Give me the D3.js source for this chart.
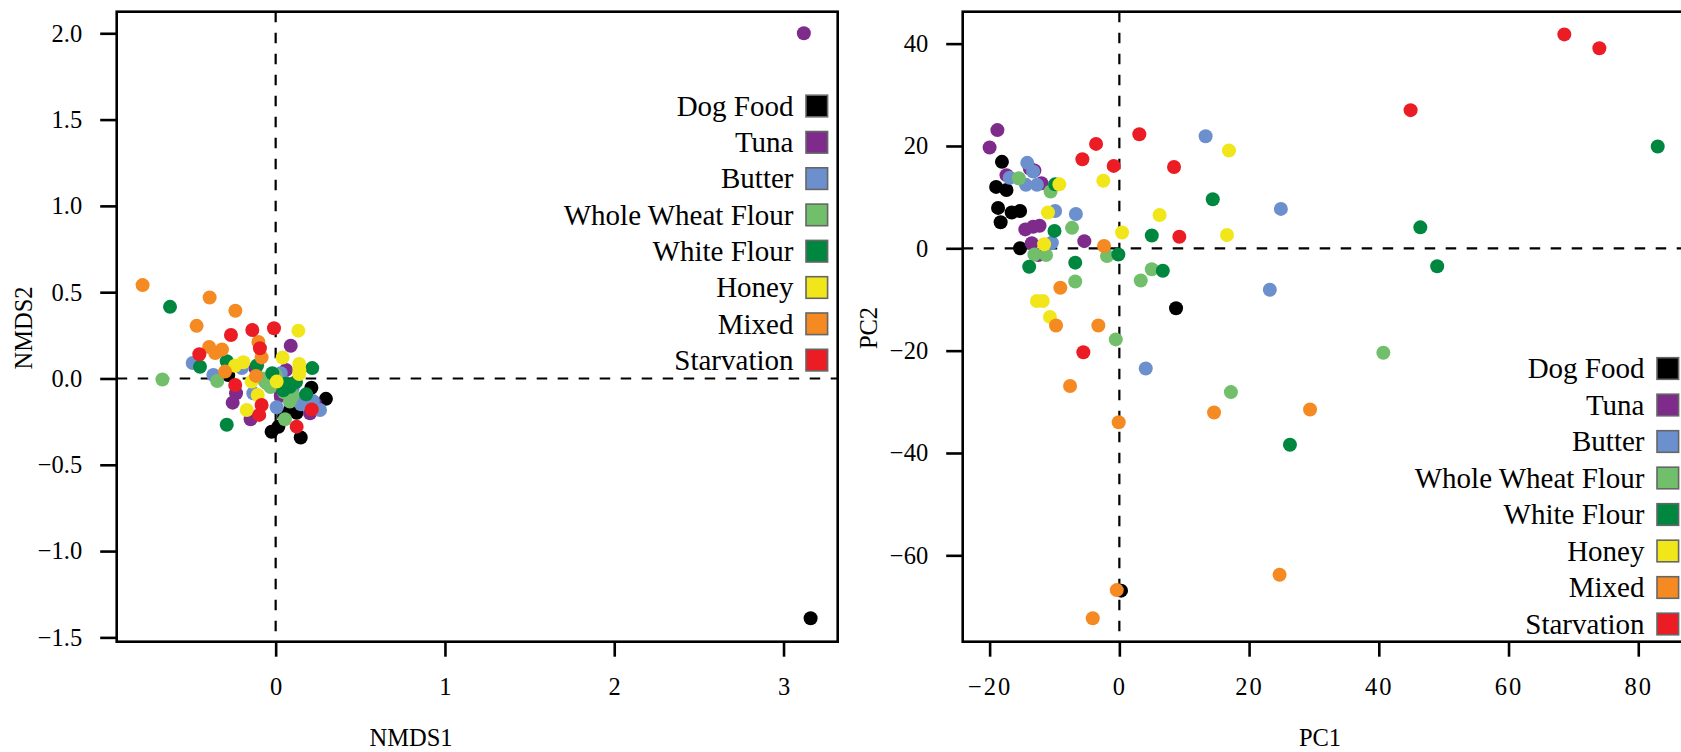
<!DOCTYPE html>
<html>
<head>
<meta charset="utf-8">
<script src="https://cdn.jsdelivr.net/npm/d3@7"></script>
<style>
  html, body { margin: 0; padding: 0; background: #ffffff; }
  svg, svg text { font-family: "Liberation Serif", "Times New Roman", serif; }
</style>
</head>
<body>
<script>
// Diet groups and their colours
const categories = ["Dog Food", "Tuna", "Butter", "Whole Wheat Flour", "White Flour", "Honey", "Mixed", "Starvation"];
const colors = ["#000000", "#7E2B8C", "#6C8FCE", "#71BF6A", "#00873F", "#F1E61A", "#F48A21", "#EC1C24"];

// NMDS ordination scores [NMDS1, NMDS2]
const nmdsDogFood = [[-0.28, 0.02], [0.211, -0.054], [0.297, -0.118], [0.124, -0.199], [0.085, -0.184], [-0.024, -0.309], [0.016, -0.280], [0.148, -0.342], [0.18, -0.12], [0.05, -0.22], [3.16, -1.389]];
const nmdsTuna = [[3.12, 2.0], [0.089, 0.190], [0.061, 0.049], [-0.234, -0.086], [-0.254, -0.140], [-0.148, -0.236], [0.203, -0.202], [0.232, -0.144], [0.03, -0.10], [0.15, -0.12], [-0.12, 0.06]];
const nmdsButter = [[-0.49, 0.09], [-0.368, 0.02], [0.006, -0.167], [0.262, -0.183], [0.179, -0.096], [-0.132, -0.086], [0.10, -0.06], [-0.06, -0.02], [0.03, 0.03], [0.22, -0.13], [-0.20, 0.06], [0.15, -0.15]];
const nmdsWholeWheat = [[-0.669, -0.006], [-0.345, -0.015], [-0.014, 0.0], [0.025, -0.028], [0.084, -0.134], [0.055, -0.236], [-0.03, -0.05], [0.0, 0.02], [0.05, -0.08], [-0.05, -0.03], [0.10, -0.10], [-0.08, 0.0]];
const nmdsWhiteFlour = [[-0.624, 0.415], [-0.447, 0.068], [-0.289, 0.100], [-0.11, 0.075], [0.216, 0.06], [-0.289, -0.268], [0.18, -0.092], [0.045, -0.068], [0.085, -0.048], [0.06, -0.03], [-0.02, 0.03], [0.12, -0.02]];
const nmdsHoney = [[0.134, 0.277], [0.041, 0.121], [0.139, 0.084], [-0.24, 0.074], [-0.191, 0.094], [0.139, 0.026], [-0.142, -0.018], [0.006, -0.018], [-0.106, -0.096], [-0.171, -0.183], [0.14, 0.05]];
const nmdsMixed = [[-0.786, 0.541], [-0.390, 0.469], [-0.238, 0.392], [-0.467, 0.305], [-0.393, 0.182], [-0.357, 0.147], [-0.317, 0.168], [-0.102, 0.212], [-0.083, 0.122], [-0.299, 0.04], [-0.116, 0.015]];
const nmdsStarvation = [[-0.010, 0.291], [-0.138, 0.281], [-0.264, 0.252], [-0.093, 0.175], [-0.451, 0.140], [-0.239, -0.038], [-0.083, -0.154], [-0.097, -0.211], [0.124, -0.279], [0.213, -0.179]];

// PCA scores [PC1, PC2]
const pcaDogFood = [[-18.1, 16.9], [-19.0, 12.0], [-17.4, 11.4], [-18.7, 7.9], [-18.3, 5.1], [-16.6, 7.0], [-15.3, 7.3], [-15.3, 0.0], [8.74, -11.7], [0.26, -66.9]];
const pcaTuna = [[-18.8, 23.1], [-20.0, 19.7], [-17.4, 14.3], [-13.8, 15.6], [-13.1, 15.2], [-12.0, 12.7], [-14.5, 3.7], [-13.3, 4.2], [-12.3, 4.4], [-13.5, 1.0], [-5.4, 1.4], [-12.5, -1.3]];
const pcaButter = [[-14.2, 16.7], [-13.3, 15.0], [-14.4, 12.4], [-12.7, 12.4], [-16.9, 13.8], [-9.9, 7.3], [-6.7, 6.7], [-10.4, 1.1], [13.3, 21.9], [24.9, 7.7], [23.2, -8.1], [4.07, -23.5]];
const pcaWholeWheat = [[-15.5, 13.7], [-10.6, 11.1], [-7.3, 4.0], [-13.1, -1.2], [-11.3, -1.3], [-1.9, -1.5], [-6.8, -6.5], [3.3, -6.3], [5.0, -4.1], [-0.55, -17.8], [40.7, -20.4], [17.2, -28.1]];
const pcaWhiteFlour = [[-9.9, 12.5], [-10.0, 3.4], [-13.9, -3.6], [-6.8, -2.8], [-0.15, -1.2], [5.0, 2.5], [14.4, 9.6], [6.7, -4.4], [46.4, 4.1], [49.0, -3.5], [83.0, 19.9], [26.3, -38.4]];
const pcaHoney = [[-9.25, 12.5], [-2.47, 13.2], [16.9, 19.1], [6.2, 6.5], [0.42, 3.1], [16.6, 2.6], [-11.0, 7.0], [-11.6, 0.78], [-12.7, -10.3], [-11.8, -10.3], [-10.7, -13.4]];
const pcaMixed = [[-2.36, 0.45], [-9.1, -7.7], [-9.76, -15.1], [-3.24, -15.1], [-7.6, -26.9], [-0.1, -34.0], [14.6, -32.1], [-0.4, -66.8], [-4.1, -72.3], [29.4, -31.5], [24.7, -63.8]];
const pcaStarvation = [[68.6, 41.8], [74.0, 39.1], [44.9, 27.0], [3.08, 22.3], [-3.59, 20.4], [-5.70, 17.4], [-0.87, 16.1], [8.43, 15.9], [9.25, 2.27], [-5.55, -20.3]];

// Axis ticks
const nmdsXTicks = [0, 1, 2, 3];
const nmdsYTicks = [-1.5, -1.0, -0.5, 0.0, 0.5, 1.0, 1.5, 2.0];
const pcaXTicks = [-20, 0, 20, 40, 60, 80];
const pcaYTicks = [-60, -40, -20, 0, 20, 40];

const nmdsGroups = [nmdsDogFood, nmdsTuna, nmdsButter, nmdsWholeWheat, nmdsWhiteFlour, nmdsHoney, nmdsMixed, nmdsStarvation];
const pcaGroups = [pcaDogFood, pcaTuna, pcaButter, pcaWholeWheat, pcaWhiteFlour, pcaHoney, pcaMixed, pcaStarvation];

const SERIF = "'Liberation Serif', 'Times New Roman', serif";
const W = 1681, H = 752;
const svg = d3.select("body").append("svg")
  .attr("width", W).attr("height", H)
  .attr("viewBox", `0 0 ${W} ${H}`)
  .attr("font-family", SERIF);
svg.append("rect").attr("width", W).attr("height", H).attr("fill", "#ffffff");

function drawPanel(cfg) {
  const x = d3.scaleLinear().domain(cfg.xDomain).range([cfg.left, cfg.right]);
  const y = d3.scaleLinear().domain(cfg.yDomain).range([cfg.bottom, cfg.top]);
  const g = svg.append("g");

  // zero reference lines
  g.append("line")
    .attr("x1", x(0)).attr("x2", x(0)).attr("y1", cfg.top).attr("y2", cfg.bottom)
    .attr("stroke", "#000").attr("stroke-width", 2.2).attr("stroke-dasharray", "10.5,10.5");
  g.append("line")
    .attr("x1", cfg.left).attr("x2", cfg.right).attr("y1", y(0)).attr("y2", y(0))
    .attr("stroke", "#000").attr("stroke-width", 2.2).attr("stroke-dasharray", "10.5,10.5");

  // points, one layer per group
  cfg.groups.forEach((pts, i) => {
    g.append("g").selectAll("circle").data(pts).join("circle")
      .attr("cx", d => x(d[0])).attr("cy", d => y(d[1]))
      .attr("r", 7).attr("fill", colors[i]);
  });

  // frame
  g.append("rect")
    .attr("x", cfg.left).attr("y", cfg.top)
    .attr("width", cfg.right - cfg.left).attr("height", cfg.bottom - cfg.top)
    .attr("fill", "none").attr("stroke", "#000").attr("stroke-width", 2.6);

  // axes
  const ax = g.append("g").attr("transform", `translate(0,${cfg.bottom})`)
    .call(d3.axisBottom(x).tickValues(cfg.xTicks).tickFormat(cfg.xFormat).tickSize(15).tickPadding(21).tickSizeOuter(0));
  const ay = g.append("g").attr("transform", `translate(${cfg.left},0)`)
    .call(d3.axisLeft(y).tickValues(cfg.yTicks).tickFormat(cfg.yFormat).tickSize(16.5).tickPadding(18).tickSizeOuter(0));
  [ax, ay].forEach(a => {
    a.attr("font-family", SERIF).attr("font-size", 24.5);
    a.select(".domain").remove();
    a.selectAll(".tick line").attr("stroke", "#000").attr("stroke-width", 2.6);
    a.selectAll(".tick text").attr("fill", "#000")
      .attr("font-family", SERIF).attr("font-size", 24.5);
  });
  if (cfg.xLetterSpacing) ax.selectAll(".tick text").attr("letter-spacing", cfg.xLetterSpacing);

  // axis titles
  g.append("text").attr("x", cfg.xTitleX).attr("y", 746)
    .attr("text-anchor", "middle").attr("font-size", 24.5).text(cfg.xTitle);
  g.append("text").attr("transform", `translate(${cfg.yTitleX},328) rotate(-90)`)
    .attr("text-anchor", "middle").attr("font-size", 24.5).text(cfg.yTitle);

  // legend
  const lg = g.append("g");
  categories.forEach((c, i) => {
    const cy = cfg.legendTop + i * cfg.legendStep;
    lg.append("rect")
      .attr("x", cfg.legendBoxX).attr("y", cy - 10.8)
      .attr("width", 21.6).attr("height", 21.6)
      .attr("fill", colors[i]).attr("stroke", "#666").attr("stroke-width", 1.6);
    lg.append("text")
      .attr("x", cfg.legendBoxX - 12.5).attr("y", cy + 9.8)
      .attr("text-anchor", "end").attr("font-size", 29).attr("fill", "#000").text(c);
  });
}

const fmt1 = d3.format(".1f");
const fmt0 = d3.format("d");

drawPanel({
  left: 116.7, right: 837.7, top: 11.7, bottom: 641.7,
  xDomain: [-0.939, 3.32], yDomain: [-1.525, 2.125],
  xTicks: nmdsXTicks, yTicks: nmdsYTicks,
  xFormat: fmt0, yFormat: fmt1,
  groups: nmdsGroups,
  xTitle: "NMDS1", xTitleX: 411, yTitle: "NMDS2", yTitleX: 31.5,
  legendBoxX: 806, legendTop: 106, legendStep: 36.3
});

drawPanel({
  left: 962.7, right: 1684, top: 11.7, bottom: 641.7,
  xDomain: [-24.15, 87.05], yDomain: [-76.88, 46.24],
  xTicks: pcaXTicks, yTicks: pcaYTicks,
  xFormat: fmt0, yFormat: fmt0, xLetterSpacing: "2px",
  groups: pcaGroups,
  xTitle: "PC1", xTitleX: 1320, yTitle: "PC2", yTitleX: 877,
  legendBoxX: 1657, legendTop: 368.5, legendStep: 36.5
});
</script>
</body>
</html>
